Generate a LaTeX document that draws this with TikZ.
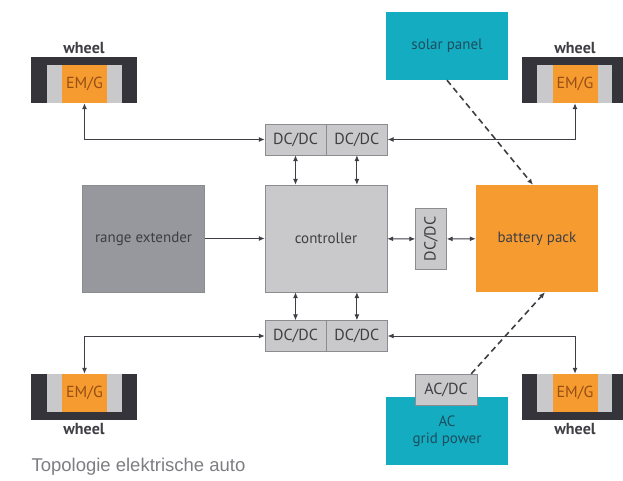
\documentclass[tikz,border=0pt]{standalone}
\usepackage{fontspec}
\setmainfont{PT Sans}
\newfontfamily\captionfont{Liberation Sans}
\usepackage{tikz}
\usetikzlibrary{arrows.meta,positioning}
\definecolor{boxgrey}   {RGB}{201,201,203}
\definecolor{rangegrey} {RGB}{150,152,157}
\definecolor{edgegrey}  {RGB}{140,140,144}
\definecolor{tyredark}  {RGB}{52 , 52, 58}
\definecolor{battorange}{RGB}{246,155, 48}
\definecolor{solarcyan} {RGB}{ 20,172,192}
\definecolor{inktext}   {RGB}{ 62, 62, 68}
\definecolor{linegrey}  {RGB}{ 62, 62, 68}

\begin{document}
\begin{tikzpicture}[
  x=1pt, y=-1pt,
  every node/.style={font=\fontsize{15}{17}\selectfont, text=inktext, align=center},
  block/.style={draw=edgegrey, fill=boxgrey, minimum width=122pt, minimum height=107pt, inner sep=0pt},
  power/.style={fill=solarcyan, minimum width=122pt, minimum height=68pt, inner sep=0pt, text={rgb,255:red,28;green,78;blue,96}},
  conv/.style={draw=edgegrey, fill=boxgrey, minimum width=61pt, minimum height=31pt, inner sep=0pt, font=\fontsize{16}{18}\selectfont},
  tyre/.style={fill=tyredark, minimum width=106pt, minimum height=46pt, inner sep=0pt},
  hub/.style={fill=boxgrey, minimum width=75pt, minimum height=38pt, inner sep=0pt},
  emg/.style={fill=battorange, minimum width=45pt, minimum height=38pt, inner sep=0pt, font=\fontsize{16}{18}\selectfont, text={rgb,255:red,150;green,78;blue,20}},
  tag/.style={font=\fontsize{16}{18}\selectfont\bfseries},
  link/.style={{Latex[length=6pt,width=5pt]}-{Latex[length=6pt,width=5pt]}, line width=1pt, linegrey},
  feed/.style={-{Latex[length=6pt,width=5pt]}, line width=1pt, linegrey},
  supply/.style={-{Latex[length=6pt,width=5pt]}, line width=1.6pt, linegrey, dash pattern=on 6pt off 4pt}
]
  \useasboundingbox (0,0) rectangle (623,481);

  % Nodes
  \node (ctrl) [block] at (326,238.5) {controller};
  \node (rangeext) [block, fill=rangegrey, left=60pt of ctrl] {range extender};
  \node (battery) [block, draw=none, fill=battorange] at (537,238.5) {battery pack};
  \node (dcM) [conv, minimum width=31pt, minimum height=61pt] at (431,239) {};
  \node [rotate=90, font=\fontsize{16}{18}\selectfont] at (dcM) {DC/DC};

  \node (dcTL) [conv] at (295.5,139.5) {DC/DC};
  \node (dcTR) [conv, right=0pt of dcTL] {DC/DC};
  \node (dcBL) [conv] at (295.5,336) {DC/DC};
  \node (dcBR) [conv, right=0pt of dcBL] {DC/DC};

  \node (solar) [power] at (447,46) {solar panel};
  \node (grid) [power] at (447,431) {AC\\grid power};
  \node (acdc) [conv, minimum width=62pt] at (446,389.5) {AC/DC};

  % wheels
  \node (tyreTL) [tyre] at (84,80) {};
  \node (hubTL) [hub] at (84.5,84) {};
  \node (emgTL) [emg] at (84.5,84) {EM/G};
  \node [tag, above=0pt of tyreTL] {wheel};

  \node (tyreTR) [tyre] at (575,80) {};
  \node (hubTR) [hub] at (574.5,84) {};
  \node (emgTR) [emg] at (575,84) {EM/G};
  \node [tag, above=0pt of tyreTR] {wheel};

  \node (tyreBL) [tyre] at (84,397) {};
  \node (hubBL) [hub] at (84.5,393) {};
  \node (emgBL) [emg] at (84.5,393) {EM/G};
  \node [tag, below=0pt of tyreBL] {wheel};

  \node (tyreBR) [tyre] at (575,397) {};
  \node (hubBR) [hub] at (574.5,393) {};
  \node (emgBR) [emg] at (575,393) {EM/G};
  \node [tag, below=0pt of tyreBR] {wheel};

  \node (caption) [anchor=west, font=\captionfont\fontsize{18.5}{20}\selectfont, text={rgb,255:red,125;green,125;blue,130}] at (28,467) {Topologie elektrische auto};

  % Paths
  \draw [link] (dcTL.west) -| (emgTL.south);
  \draw [link] (dcTR.east) -| (emgTR.south);
  \draw [link] (dcBL.west) -| (emgBL.north);
  \draw [link] (dcBR.east) -| (emgBR.north);

  \draw [link] (dcTL.south) -- (dcTL.south |- ctrl.north);
  \draw [link] (dcTR.south) -- (dcTR.south |- ctrl.north);
  \draw [link] (dcBL.north) -- (dcBL.north |- ctrl.south);
  \draw [link] (dcBR.north) -- (dcBR.north |- ctrl.south);

  \draw [feed] (rangeext) -- (ctrl);
  \draw [link] (ctrl) -- (dcM);
  \draw [link] (dcM) -- (battery);

  \draw [supply] (solar.south) -- ([xshift=-4pt]battery.north);
  \draw [supply] ([xshift=-6pt]acdc.north east) -- ([xshift=8pt]battery.south);
\end{tikzpicture}
\end{document}
